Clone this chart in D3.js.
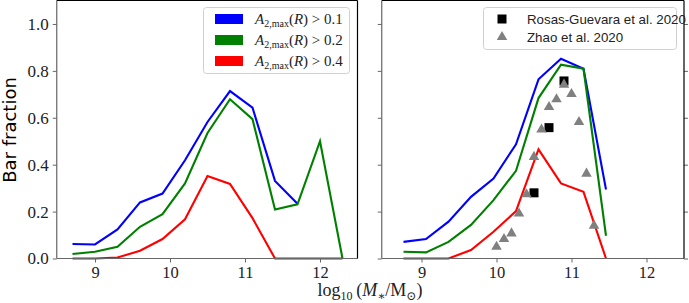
<!DOCTYPE html>
<html>
<head>
<meta charset="utf-8">
<script src="https://cdn.jsdelivr.net/npm/d3@7"></script>
<style>
  body { margin: 0; background: #fff; }
  svg { display: block; }
</style>
</head>
<body>
<div class="chart"></div>
<script>
// left panel: bins of log10 stellar mass (null = no value plotted)
var massL = [8.7, 9.0, 9.3, 9.6, 9.9, 10.2, 10.5, 10.8, 11.1, 11.4, 11.7, 12.0, 12.3];
var blueL = [0.062, 0.06, 0.124, 0.239, 0.277, 0.419, 0.582, 0.714, 0.643, 0.331, 0.233, null, null];
var greenL = [0.019, 0.029, 0.050, 0.135, 0.189, 0.32, 0.535, 0.679, 0.594, 0.209, 0.231, 0.5, 0];
var redL = [0, 0, 0.004, 0.033, 0.083, 0.167, 0.352, 0.318, 0.172, 0, 0, 0, 0];

// right panel
var massR = [8.76, 9.06, 9.36, 9.66, 9.96, 10.26, 10.56, 10.86, 11.16, 11.46];
var blueR = [0.071, 0.083, 0.157, 0.263, 0.341, 0.487, 0.764, 0.852, 0.809, 0.294];
var greenR = [0.029, 0.026, 0.071, 0.143, 0.249, 0.374, 0.684, 0.826, 0.809, 0.097];
var redR = [0, 0, 0, 0.036, 0.114, 0.202, 0.465, 0.32, 0.284, 0];

var rosasX = [10.5, 10.7, 10.9];
var rosasY = [0.28, 0.558, 0.757];
var zhaoX = [10.0, 10.1, 10.2, 10.3, 10.4, 10.5, 10.6, 10.7, 10.8, 10.9, 11.0, 11.1, 11.2, 11.3];
var zhaoY = [0.05, 0.083, 0.107, 0.192, 0.274, 0.433, 0.55, 0.646, 0.679, 0.741, 0.701, 0.582, 0.362, 0.14];

var xTicks = [9, 10, 11, 12];
var yTicks = [0, 0.2, 0.4, 0.6, 0.8, 1.0];
var thresholds = ['0.1', '0.2', '0.4'];
var colors = ['#0000ff', '#008000', '#ff0000'];
var refLabels = ['Rosas-Guevara et al. 2020', 'Zhao et al. 2020'];

var W = 689, H = 303;
var serif = "'Liberation Serif', 'DejaVu Serif', serif";
var sans = "'Liberation Sans', 'DejaVu Sans', sans-serif";

var svg = d3.select('.chart')
    .append('svg')
    .attr('width', W)
    .attr('height', H);

var yScale = d3.scaleLinear().domain([0, 1.1]).range([258.5, 0.5]);
var xLeft = d3.scaleLinear().domain([8.49, 12.5]).range([56.75, 357.5]);
var xRight = d3.scaleLinear().domain([8.47, 12.5]).range([381.75, 684]);

function drawFrame(x, showYLabels, rightTicks) {
    var x0 = x.range()[0], x1 = x.range()[1];
    var y0 = yScale.range()[0], y1 = yScale.range()[1];

    var xAxis = d3.axisBottom(x).tickValues(xTicks).tickSize(4).tickPadding(4)
        .tickFormat(d3.format('d'));
    var gx = svg.append('g')
        .attr('transform', `translate(0, ${y0})`)
        .call(xAxis);
    gx.select('.domain').remove();
    gx.selectAll('.tick line').attr('stroke', '#666');
    gx.selectAll('text')
        .attr('fill', '#222')
        .style('font-family', serif)
        .style('font-size', '16.5px');

    var yAxis = d3.axisLeft(yScale).tickValues(yTicks).tickSize(4).tickPadding(4)
        .tickFormat(showYLabels ? d3.format('.1f') : '');
    var gy = svg.append('g')
        .attr('transform', `translate(${x0}, 0)`)
        .call(yAxis);
    gy.select('.domain').remove();
    gy.selectAll('.tick line').attr('stroke', '#666');
    gy.selectAll('text')
        .attr('fill', '#222')
        .style('font-family', serif)
        .style('font-size', '17px');

    if (rightTicks) {
        var gr = svg.append('g')
            .attr('transform', `translate(${x1}, 0)`)
            .call(d3.axisRight(yScale).tickValues(yTicks).tickSize(4).tickFormat(''));
        gr.select('.domain').remove();
        gr.selectAll('.tick line').attr('stroke', '#666');
    }

    // spines
    svg.append('line').attr('x1', x0).attr('x2', x0).attr('y1', y0).attr('y2', y1)
        .attr('stroke', '#666').attr('stroke-width', 1.2);
    svg.append('line').attr('x1', x0).attr('x2', x1).attr('y1', y0).attr('y2', y0)
        .attr('stroke', '#666').attr('stroke-width', 1.2);
    svg.append('line').attr('x1', x1).attr('x2', x1).attr('y1', y0).attr('y2', y1)
        .attr('stroke', '#000').attr('stroke-width', 1.2);
    svg.append('line').attr('x1', x0).attr('x2', x1).attr('y1', y1).attr('y2', y1)
        .attr('stroke', '#000').attr('stroke-width', 1.2);
}

function drawLines(x, mass, series) {
    var line = d3.line()
        .defined(d => d[1] !== null)
        .x(d => x(d[0]))
        .y(d => yScale(d[1]));
    series.forEach(function (vals, i) {
        svg.append('path')
            .datum(mass.map((m, j) => [m, vals[j]]))
            .attr('fill', 'none')
            .attr('stroke', colors[i])
            .attr('stroke-width', 2.1)
            .attr('stroke-linejoin', 'miter')
            .attr('d', line);
    });
}

drawLines(xLeft, massL, [blueL, greenL, redL]);
drawLines(xRight, massR, [blueR, greenR, redR]);

// reference points
svg.selectAll('.rosas')
    .data(rosasX)
    .enter()
    .append('rect')
    .attr('class', 'rosas')
    .attr('x', d => xRight(d) - 4.5)
    .attr('y', (d, i) => yScale(rosasY[i]) - 4.5)
    .attr('width', 9)
    .attr('height', 9)
    .attr('fill', '#000');

var tri = d3.symbol().type(d3.symbolTriangle).size(48);
svg.selectAll('.zhao')
    .data(zhaoX)
    .enter()
    .append('path')
    .attr('class', 'zhao')
    .attr('d', tri)
    .attr('fill', '#808080')
    .attr('transform', (d, i) => `translate(${xRight(d)}, ${yScale(zhaoY[i])})`);

drawFrame(xLeft, true, false);
drawFrame(xRight, false, true);

// left legend
var lg = svg.append('g');
lg.append('rect')
    .attr('x', 203.5).attr('y', 7.5).attr('width', 146).attr('height', 66)
    .attr('rx', 3).attr('fill', '#fff').attr('fill-opacity', 0.8)
    .attr('stroke', '#d0d0d0');
thresholds.forEach(function (t, i) {
    var cy = 19 + i * 21;
    lg.append('rect')
        .attr('x', 215).attr('y', cy - 5).attr('width', 28).attr('height', 10)
        .attr('fill', colors[i]);
    var txt = lg.append('text')
        .attr('x', 255).attr('y', cy + 5)
        .style('font-family', serif)
        .style('font-size', '15px')
        .attr('fill', '#222');
    txt.append('tspan').style('font-style', 'italic').text('A');
    txt.append('tspan').attr('dy', 3).style('font-size', '10px').text('2,max');
    txt.append('tspan').attr('dy', -3).text('(');
    txt.append('tspan').style('font-style', 'italic').text('R');
    txt.append('tspan').text(') > ' + t);
});

// right legend
var rg = svg.append('g');
rg.append('rect')
    .attr('x', 483.5).attr('y', 7.5).attr('width', 193).attr('height', 42)
    .attr('rx', 3).attr('fill', '#fff').attr('fill-opacity', 0.8)
    .attr('stroke', '#d0d0d0');
rg.append('rect').attr('x', 497.5).attr('y', 14.5).attr('width', 9).attr('height', 9).attr('fill', '#000');
rg.append('path').attr('d', tri).attr('fill', '#808080').attr('transform', 'translate(502, 37)');
refLabels.forEach(function (l, i) {
    rg.append('text')
        .attr('x', 527).attr('y', 24 + i * 18)
        .style('font-family', sans)
        .style('font-size', '13.3px')
        .attr('fill', '#222')
        .text(l);
});

// axis labels
svg.append('text')
    .attr('transform', 'translate(16, 130) rotate(-90)')
    .style('text-anchor', 'middle')
    .style('font-family', "'DejaVu Sans', sans-serif")
    .style('font-size', '18px')
    .attr('fill', '#000')
    .text('Bar fraction');

var xl = svg.append('text')
    .attr('x', 370).attr('y', 296)
    .style('text-anchor', 'middle')
    .style('font-family', serif)
    .style('font-size', '18px')
    .attr('fill', '#222');
xl.append('tspan').text('log');
xl.append('tspan').attr('dy', 4).style('font-size', '12px').text('10');
xl.append('tspan').attr('dy', -4).text('\u2009(');
xl.append('tspan').style('font-style', 'italic').text('M');
xl.append('tspan').attr('dy', 4).style('font-size', '12px').text('\u2217');
xl.append('tspan').attr('dy', -4).text('/M');
xl.append('tspan').attr('dy', 4).style('font-size', '12px').text('\u2299');
xl.append('tspan').attr('dy', -4).text(')');
</script>
</body>
</html>
